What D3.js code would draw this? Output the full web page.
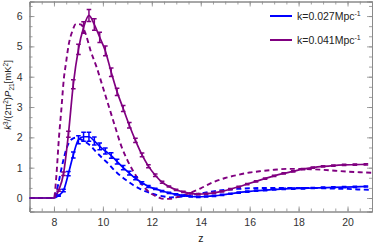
<!DOCTYPE html>
<html>
<head>
<meta charset="utf-8">
<script src="https://cdn.jsdelivr.net/npm/d3@7"></script>
<style>
  body { margin: 0; background: #fff; }
  text { font-family: "Liberation Sans", Arial, sans-serif; }
</style>
</head>
<body>
<svg id="grafico"></svg>
<script>
// pontos com barras de erro (mesma grade em z para as duas curvas)
const zPontos = [8.00, 8.19, 8.39, 8.59, 8.79, 9.00, 9.21, 9.43, 9.65, 9.87, 10.10, 10.34, 10.58, 10.83,
  11.08, 11.33, 11.60, 11.86, 12.14, 12.42, 12.70, 12.99, 13.29, 13.59, 13.90, 14.22, 14.54, 14.87,
  15.21, 15.55, 15.90, 16.26, 16.63, 17.00, 17.39, 17.78, 18.18, 18.58, 19.00, 19.42, 19.86, 20.30, 20.75];

const azulSolido = [0, 0.08, 0.25, 0.80, 1.42, 1.92, 2.02, 2.02, 1.88, 1.70, 1.55, 1.40, 1.20, 1.00,
  0.82, 0.65, 0.50, 0.38, 0.30, 0.23, 0.17, 0.12, 0.08, 0.05, 0.04, 0.05, 0.07, 0.10,
  0.14, 0.18, 0.21, 0.24, 0.26, 0.28, 0.30, 0.31, 0.32, 0.33, 0.34, 0.35, 0.36, 0.37, 0.38];
const azulErro = [0, 0.02, 0.04, 0.07, 0.10, 0.13, 0.15, 0.15, 0.13, 0.11, 0.10, 0.09, 0.08, 0.07,
  0.06, 0.05, 0.04, 0.03, 0.02, 0.02, 0.02, 0.02, 0.02, 0.02, 0.02, 0.02, 0.02, 0.02,
  0.02, 0.02, 0.02, 0.02, 0.02, 0.02, 0.02, 0.02, 0.02, 0.02, 0.02, 0.02, 0.02, 0.02, 0.02];

const roxoSolido = [0, 0.25, 0.80, 2.10, 3.75, 4.90, 5.62, 6.02, 5.72, 5.30, 4.85, 4.15, 3.50, 2.95,
  2.40, 1.90, 1.42, 1.05, 0.75, 0.52, 0.38, 0.27, 0.20, 0.15, 0.13, 0.14, 0.17, 0.22,
  0.29, 0.37, 0.46, 0.55, 0.64, 0.73, 0.81, 0.88, 0.95, 1.00, 1.04, 1.07, 1.09, 1.10, 1.11];
const roxoErro = [0, 0.03, 0.06, 0.10, 0.15, 0.17, 0.19, 0.20, 0.19, 0.17, 0.16, 0.14, 0.12, 0.10,
  0.09, 0.07, 0.06, 0.05, 0.04, 0.03, 0.02, 0.02, 0.02, 0.02, 0.02, 0.02, 0.02, 0.02,
  0.02, 0.02, 0.02, 0.02, 0.02, 0.02, 0.02, 0.02, 0.02, 0.02, 0.02, 0.02, 0.02, 0.02, 0.02];

// curvas tracejadas (modelo)
const zModelo = [7, 8.0, 8.1, 8.2, 8.3, 8.4, 8.5, 8.6, 8.75, 8.9, 9.1, 9.3, 9.5, 9.75, 10.0, 10.25,
  10.5, 10.75, 11.0, 11.25, 11.5, 11.75, 12.0, 12.25, 12.5, 12.75, 13.0, 13.5, 14, 14.5, 15, 15.5,
  16, 16.5, 17, 17.5, 18, 18.5, 19, 19.5, 20, 20.5, 21];
const azulTracejado = [0, 0, 0.20, 0.55, 0.95, 1.30, 1.60, 1.80, 1.95, 1.99, 1.93, 1.84, 1.72, 1.50, 1.30, 1.11,
  0.89, 0.71, 0.56, 0.42, 0.31, 0.22, 0.15, 0.09, 0.05, 0.02, 0.03, 0.08, 0.15, 0.22, 0.27, 0.30,
  0.32, 0.33, 0.33, 0.33, 0.33, 0.33, 0.32, 0.31, 0.30, 0.28, 0.27];
const roxoTracejado = [0, 0, 0.75, 1.95, 2.90, 3.90, 4.50, 5.05, 5.50, 5.74, 5.72, 5.40, 4.85, 4.30, 3.65, 3.00,
  2.35, 1.72, 1.25, 0.87, 0.55, 0.30, 0.13, 0.03, -0.03, -0.03, 0.02, 0.15, 0.32, 0.52, 0.66, 0.76,
  0.84, 0.89, 0.93, 0.96, 0.96, 0.95, 0.93, 0.90, 0.87, 0.85, 0.83];

const xTicks = [8, 10, 12, 14, 16, 18, 20];
const yTicks = [0, 1, 2, 3, 4, 5, 6];
const legendas = ['k=0.027Mpc', 'k=0.041Mpc'];

const AZUL = '#0000ff', ROXO = '#800080';

function grafico() {
  let largura = 374, altura = 245;
  let svg = d3.select('#grafico').attr('width', largura).attr('height', altura);

  let esq = 29.5, dir = 372, topo = 1.5, base = 211.5;

  let fnX = d3.scaleLinear().domain([7, 21]).range([esq, dir]);
  let fnY = d3.scaleLinear().domain([-0.445, 6.48]).range([base, topo]);

  svg.append('clipPath').attr('id', 'corte')
    .append('rect').attr('x', esq).attr('y', topo).attr('width', dir - esq).attr('height', base - topo);

  // moldura com ticks para dentro
  let corMoldura = '#8a8a8a';
  let minX = d3.range(7, 21.01, 0.5);
  let minY = d3.range(-1, 20).map(i => i / 3).filter(v => v > -0.445 && v < 6.48);

  function eixo(gerador, escala, maiores, menores, transl, comRotulo) {
    let g = svg.append('g').attr('transform', transl);
    g.call(gerador(escala).tickValues(menores).tickSize(-3).tickFormat(''));
    let g2 = svg.append('g').attr('transform', transl);
    g2.call(gerador(escala).tickValues(maiores).tickSize(-5).tickFormat(comRotulo ? d3.format('d') : ''));
    [g, g2].forEach(s => {
      s.selectAll('path').attr('stroke', corMoldura).attr('stroke-width', 1);
      s.selectAll('line').attr('stroke', corMoldura).attr('stroke-width', 0.8);
      s.selectAll('text').attr('fill', '#333').style('font-size', '10.5px');
    });
    if (!comRotulo) g2.selectAll('text').remove();
    return g2;
  }

  let gx = eixo(d3.axisBottom, fnX, xTicks, minX, `translate(0,${base})`, true);
  gx.selectAll('text').attr('dy', '0.71em').attr('y', 7);
  eixo(d3.axisTop, fnX, xTicks, minX, `translate(0,${topo})`, false);
  let gy = eixo(d3.axisLeft, fnY, yTicks, minY, `translate(${esq},0)`, true);
  gy.selectAll('text').attr('x', -7);
  eixo(d3.axisRight, fnY, yTicks, minY, `translate(${dir},0)`, false);

  let plot = svg.append('g').attr('clip-path', 'url(#corte)');

  let linha = d3.line().x(d => fnX(d[0])).y(d => fnY(d[1])).curve(d3.curveMonotoneX);

  let series = [
    { z: zModelo, v: azulTracejado, cor: AZUL, tracejado: true },
    { z: zModelo, v: roxoTracejado, cor: ROXO, tracejado: true },
    { z: [7].concat(zPontos), v: [0].concat(azulSolido), cor: AZUL, tracejado: false },
    { z: [7].concat(zPontos), v: [0].concat(roxoSolido), cor: ROXO, tracejado: false }
  ];

  series.forEach(s => {
    plot.append('path')
      .datum(s.z.map((z, i) => [z, s.v[i]]))
      .attr('d', linha)
      .attr('fill', 'none')
      .attr('stroke', s.cor)
      .attr('stroke-width', s.tracejado ? 1.9 : 1.7)
      .attr('stroke-dasharray', s.tracejado ? '5,3.5' : null);
  });

  // barras de erro
  let barras = [
    { v: azulSolido, e: azulErro, cor: AZUL },
    { v: roxoSolido, e: roxoErro, cor: ROXO }
  ];
  barras.forEach(b => {
    let dados = zPontos.map((z, i) => ({ z: z, v: b.v[i], e: b.e[i] })).filter(d => d.e > 0);
    let g = plot.append('g').attr('stroke', b.cor).attr('stroke-width', 1.5);
    g.selectAll('.barra').data(dados).enter().append('line')
      .attr('x1', d => fnX(d.z)).attr('x2', d => fnX(d.z))
      .attr('y1', d => fnY(d.v - d.e)).attr('y2', d => fnY(d.v + d.e));
    g.selectAll('.capa1').data(dados).enter().append('line')
      .attr('x1', d => fnX(d.z) - 2.3).attr('x2', d => fnX(d.z) + 2.3)
      .attr('y1', d => fnY(d.v + d.e)).attr('y2', d => fnY(d.v + d.e));
    g.selectAll('.capa2').data(dados).enter().append('line')
      .attr('x1', d => fnX(d.z) - 2.3).attr('x2', d => fnX(d.z) + 2.3)
      .attr('y1', d => fnY(d.v - d.e)).attr('y2', d => fnY(d.v - d.e));
  });

  // legenda
  [AZUL, ROXO].forEach((cor, i) => {
    let y = 16 + i * 24;
    svg.append('line').attr('x1', 270).attr('x2', 292).attr('y1', y).attr('y2', y)
      .attr('stroke', cor).attr('stroke-width', 2);
    let t = svg.append('text').attr('x', 297).attr('y', y + 3.5)
      .style('font-size', '10.5px').attr('fill', '#222');
    t.append('tspan').text(legendas[i]);
    t.append('tspan').attr('dy', -4).style('font-size', '7px').text('-1');
  });

  // rótulos dos eixos
  svg.append('text').attr('x', fnX(14)).attr('y', 242).attr('text-anchor', 'middle')
    .style('font-size', '10.5px').attr('fill', '#222').text('z');

  let ry = svg.append('text').attr('transform', 'translate(11,95) rotate(-90)')
    .attr('text-anchor', 'middle').style('font-size', '9.5px').attr('fill', '#222');
  ry.append('tspan').style('font-style', 'italic').text('k');
  ry.append('tspan').attr('dy', -3.5).style('font-size', '6.5px').text('3');
  ry.append('tspan').attr('dy', 3.5).text('/(2π');
  ry.append('tspan').attr('dy', -3.5).style('font-size', '6.5px').text('2');
  ry.append('tspan').attr('dy', 3.5).text(')');
  ry.append('tspan').style('font-style', 'italic').text('P');
  ry.append('tspan').attr('dy', 2.5).style('font-size', '6.5px').text('21');
  ry.append('tspan').attr('dy', -2.5).text('[mK');
  ry.append('tspan').attr('dy', -3.5).style('font-size', '6.5px').text('2');
  ry.append('tspan').attr('dy', 3.5).text(']');
}

grafico();
</script>
</body>
</html>
